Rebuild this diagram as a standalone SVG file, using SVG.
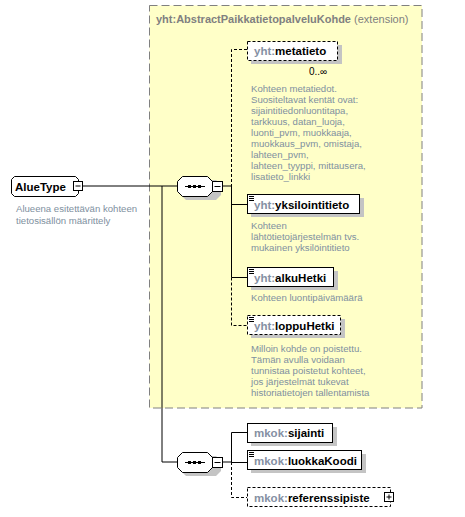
<svg xmlns="http://www.w3.org/2000/svg" width="465" height="517" viewBox="0 0 465 517">
<style>
.t{font-family:"Liberation Sans",Arial,sans-serif}
.nm{font-family:"Liberation Sans",Arial,sans-serif;font-size:11.5px;font-weight:bold;fill:#000}
.px{fill:#8590a3}
.ds{font-family:"Liberation Sans",Arial,sans-serif;font-size:9.6px;fill:#8090a0}
.box{fill:#fff;stroke:#000;stroke-width:1}
.dbox{fill:#fff;stroke:#000;stroke-width:1;stroke-dasharray:3,2}
.sh{fill:#c4c4c4}
.ln{stroke:#000;stroke-width:1;fill:none}
.dl{stroke:#000;stroke-width:1;fill:none;stroke-dasharray:3,2}
</style>
<rect x="0" y="0" width="465" height="517" fill="#fff"/>
<g id="extension">
<rect x="149.5" y="5.5" width="272.5" height="402.5" fill="#ffffc8" stroke="#808080" stroke-dasharray="8,4"/>
<text class="t" x="156" y="23" font-size="11" fill="#808080"><tspan font-weight="bold">yht:AbstractPaikkatietopalveluKohde</tspan> (extension)</text>
</g>
<g id="connectors">
<line class="ln" x1="83" y1="186" x2="177" y2="186"/>
<polyline class="ln" points="162,186 162,462 177,462"/>
<line class="ln" x1="222" y1="186" x2="231" y2="186"/>
<polyline class="dl" points="247,49.5 231.5,49.5 231.5,186"/>
<line class="ln" x1="231.5" y1="186" x2="231.5" y2="277.5"/>
<line class="ln" x1="231.5" y1="204.5" x2="247" y2="204.5"/>
<line class="ln" x1="231.5" y1="277.5" x2="247" y2="277.5"/>
<polyline class="dl" points="231.5,277.5 231.5,325.5 247,325.5"/>
<line class="ln" x1="222" y1="462" x2="231" y2="462"/>
<polyline class="ln" points="247,432.5 231.5,432.5 231.5,462"/>
<line class="ln" x1="231.5" y1="462.5" x2="247" y2="462.5"/>
<polyline class="dl" points="231.5,462 231.5,497.5 247,497.5"/>
</g>
<g id="AlueType">
<polygon points="14.5,176.5 75.5,176.5 78.5,179.5 78.5,193.5 75.5,196.5 14.5,196.5 11.5,193.5 11.5,179.5" class="box"/>
<text class="nm" x="15" y="190.5">AlueType</text>
<rect x="73.5" y="181.5" width="9" height="9" class="box"/>
<line class="ln" x1="75.5" y1="186" x2="80.5" y2="186"/>
<text class="ds" x="16" y="212">Alueena esitettävän kohteen</text>
<text class="ds" x="16" y="224">tietosisällön määrittely</text>
</g>
<g id="seq1">
<polygon points="186,180 216,180 221,185 221,195 216,200 186,200 181,195 181,185" class="sh"/>
<polygon points="182.5,176.5 207.5,176.5 212.5,181.5 212.5,191.5 207.5,196.5 182.5,196.5 177.5,191.5 177.5,181.5" class="box"/>
<line class="ln" x1="185" y1="186.5" x2="205" y2="186.5"/>
<rect x="188" y="185" width="3" height="3"/><rect x="193" y="185" width="3" height="3"/><rect x="198" y="185" width="3" height="3"/>
<rect x="212.5" y="181.5" width="10" height="10" class="box"/>
<line class="ln" x1="214.5" y1="186.5" x2="220.5" y2="186.5"/>
</g>
<g id="metatieto">
<rect x="251" y="45" width="91" height="19" class="sh"/>
<rect x="247.5" y="41.5" width="90" height="19" class="dbox"/>
<text class="nm" x="254" y="55"><tspan class="px">yht:</tspan>metatieto</text>
<text class="t" x="309" y="75" font-size="10" fill="#000">0..∞</text>
<text class="ds"><tspan x="251" y="92">Kohteen metatiedot.</tspan><tspan x="251" y="103">Suositeltavat kentät ovat:</tspan><tspan x="251" y="114">sijaintitiedonluontitapa,</tspan><tspan x="251" y="125">tarkkuus, datan_luoja,</tspan><tspan x="251" y="136">luonti_pvm, muokkaaja,</tspan><tspan x="251" y="147">muokkaus_pvm, omistaja,</tspan><tspan x="251" y="158">lahteen_pvm,</tspan><tspan x="251" y="169">lahteen_tyyppi, mittausera,</tspan><tspan x="251" y="180">lisatieto_linkki</tspan></text>
</g>
<g id="yksilointitieto">
<rect x="251" y="198" width="113" height="19" class="sh"/>
<rect x="247.5" y="194.5" width="112" height="19" class="box"/>
<path d="M249 196.5h5M249 198.5h5M249 200.5h5" class="ln"/>
<text class="nm" x="254" y="208.5"><tspan class="px">yht:</tspan>yksilointitieto</text>
<text class="ds"><tspan x="251" y="229">Kohteen</tspan><tspan x="251" y="240">lähtötietojärjestelmän  tvs.</tspan><tspan x="251" y="251">mukainen yksilöintitieto</tspan></text>
</g>
<g id="alkuHetki">
<rect x="251" y="271" width="87" height="19" class="sh"/>
<rect x="247.5" y="267.5" width="86" height="19" class="box"/>
<path d="M249 269.5h5M249 271.5h5M249 273.5h5" class="ln"/>
<text class="nm" x="254" y="281.5"><tspan class="px">yht:</tspan>alkuHetki</text>
<text class="ds" x="251" y="301">Kohteen luontipäivämäärä</text>
</g>
<g id="loppuHetki">
<rect x="251" y="319" width="94" height="19" class="sh"/>
<rect x="247.5" y="315.5" width="93" height="19" class="dbox"/>
<path d="M249 317.5h5M249 319.5h5M249 321.5h5" class="ln"/>
<text class="nm" x="254" y="329.5"><tspan class="px">yht:</tspan>loppuHetki</text>
<text class="ds"><tspan x="251" y="352">Milloin kohde on poistettu.</tspan><tspan x="251" y="363">Tämän avulla voidaan</tspan><tspan x="251" y="374">tunnistaa poistetut kohteet,</tspan><tspan x="251" y="385">jos järjestelmät tukevat</tspan><tspan x="251" y="396">historiatietojen tallentamista</tspan></text>
</g>
<g id="seq2">
<polygon points="186,456 216,456 221,461 221,471 216,476 186,476 181,471 181,461" class="sh"/>
<polygon points="182.5,452.5 207.5,452.5 212.5,457.5 212.5,467.5 207.5,472.5 182.5,472.5 177.5,467.5 177.5,457.5" class="box"/>
<line class="ln" x1="185" y1="462.5" x2="205" y2="462.5"/>
<rect x="188" y="461" width="3" height="3"/><rect x="193" y="461" width="3" height="3"/><rect x="198" y="461" width="3" height="3"/>
<rect x="212.5" y="457.5" width="10" height="10" class="box"/>
<line class="ln" x1="214.5" y1="462.5" x2="220.5" y2="462.5"/>
</g>
<g id="sijainti">
<rect x="251" y="427" width="86" height="19" class="sh"/>
<rect x="247.5" y="423.5" width="85" height="19" class="box"/>
<text class="nm" x="254" y="437"><tspan class="px">mkok:</tspan>sijainti</text>
</g>
<g id="luokkaKoodi">
<rect x="251" y="454" width="115" height="19" class="sh"/>
<rect x="247.5" y="450.5" width="114" height="19" class="box"/>
<path d="M249 452.5h5M249 454.5h5M249 456.5h5" class="ln"/>
<text class="nm" x="254" y="465"><tspan class="px">mkok:</tspan>luokkaKoodi</text>
</g>
<g id="referenssipiste">
<rect x="247.5" y="487.5" width="143" height="19" class="dbox"/>
<text class="nm" x="254" y="501.5"><tspan class="px">mkok:</tspan>referenssipiste</text>
<rect x="384.5" y="492.5" width="9" height="9" class="box"/>
<path d="M386.5 497h5M389 494.5v5" class="ln"/>
</g>
</svg>
